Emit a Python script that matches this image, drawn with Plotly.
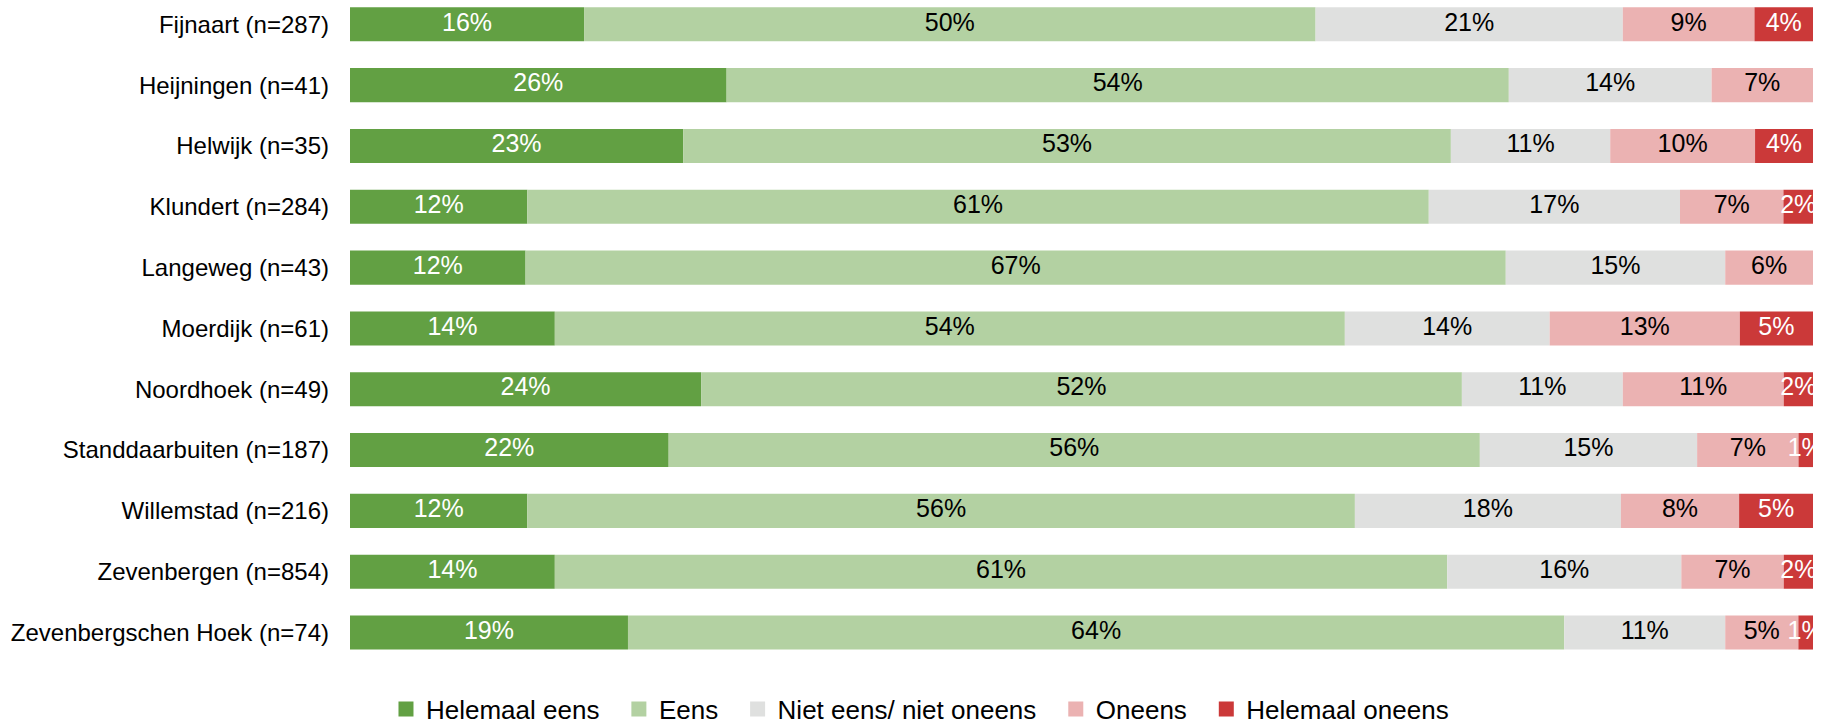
import plotly.graph_objects as go

categories = [
    "Fijnaart (n=287)", "Heijningen (n=41)", "Helwijk (n=35)", "Klundert (n=284)",
    "Langeweg (n=43)", "Moerdijk (n=61)", "Noordhoek (n=49)", "Standdaarbuiten (n=187)",
    "Willemstad (n=216)", "Zevenbergen (n=854)", "Zevenbergschen Hoek (n=74)",
]
helemaal_eens = [16, 26, 23, 12, 12, 14, 24, 22, 12, 14, 19]
eens = [50, 54, 53, 61, 67, 54, 52, 56, 56, 61, 64]
neutraal = [21, 14, 11, 17, 15, 14, 11, 15, 18, 16, 11]
oneens = [9, 7, 10, 7, 6, 13, 11, 7, 8, 7, 5]
helemaal_oneens = [4, 0, 4, 2, 0, 5, 2, 1, 5, 2, 1]

series_names = ["Helemaal eens", "Eens", "Niet eens/ niet oneens", "Oneens", "Helemaal oneens"]
series_values = [helemaal_eens, eens, neutraal, oneens, helemaal_oneens]
series_colors = ["#62A043", "#B3D1A2", "#DFE0DF", "#EBB2B2", "#CB3939"]
label_colors = ["white", "black", "black", "black", "white"]

FONT = "Liberation Sans, Arial, sans-serif"
fig = go.Figure()

totals = [sum(vals[i] for vals in series_values) for i in range(len(categories))]
cum = [0.0] * len(categories)
for name, vals, color, tcolor in zip(series_names, series_values, series_colors, label_colors):
    shares = [v / t * 100 for v, t in zip(vals, totals)]
    fig.add_trace(go.Bar(
        name=name, y=categories, x=shares, base=cum[:], orientation="h",
        marker=dict(color=color, line=dict(width=0)),
        textposition="none", showlegend=False, hoverinfo="skip",
    ))
    mids = [c + s / 2 for c, s in zip(cum, shares)]
    fig.add_trace(go.Scatter(
        x=[m for m, v in zip(mids, vals) if v > 0],
        y=[c for c, v in zip(categories, vals) if v > 0],
        text=[f"{v}%" for v in vals if v > 0],
        mode="text", textposition="middle center",
        textfont=dict(color=tcolor, size=25, family=FONT),
        showlegend=False, cliponaxis=False, hoverinfo="skip",
    ))
    cum = [c + s for c, s in zip(cum, shares)]

# legend entries
for i, (name, color) in enumerate(zip(series_names, series_colors)):
    pad = "\u00a0\u00a0" if i < len(series_names) - 1 else ""
    fig.add_trace(go.Scatter(
        x=[None], y=[None], mode="markers", name=name + pad,
        marker=dict(symbol="square", size=15, color=color),
        showlegend=True,
    ))

fig.update_layout(
    barmode="overlay", bargap=0.44,
    width=1825, height=726,
    margin=dict(l=350, r=12, t=0, b=57, autoexpand=False),
    plot_bgcolor="white", paper_bgcolor="white",
    font=dict(family=FONT, size=24, color="black"),
    xaxis=dict(range=[0, 100], visible=False, showgrid=False, zeroline=False),
    yaxis=dict(type="category", categoryorder="array", categoryarray=categories,
               range=[10.6, -0.4], showgrid=False, zeroline=False, showline=False,
               ticks="", ticklabelstandoff=20, tickfont=dict(size=24, color="black")),
    legend=dict(orientation="h", x=0.3896, xanchor="center",
                yref="container", y=0.0234, yanchor="middle",
                font=dict(size=26, color="black"), itemwidth=30, traceorder="normal"),
    showlegend=True,
)

fig.write_html("out.html", config={"displayModeBar": False},
               post_script="document.body.style.margin='0';")
